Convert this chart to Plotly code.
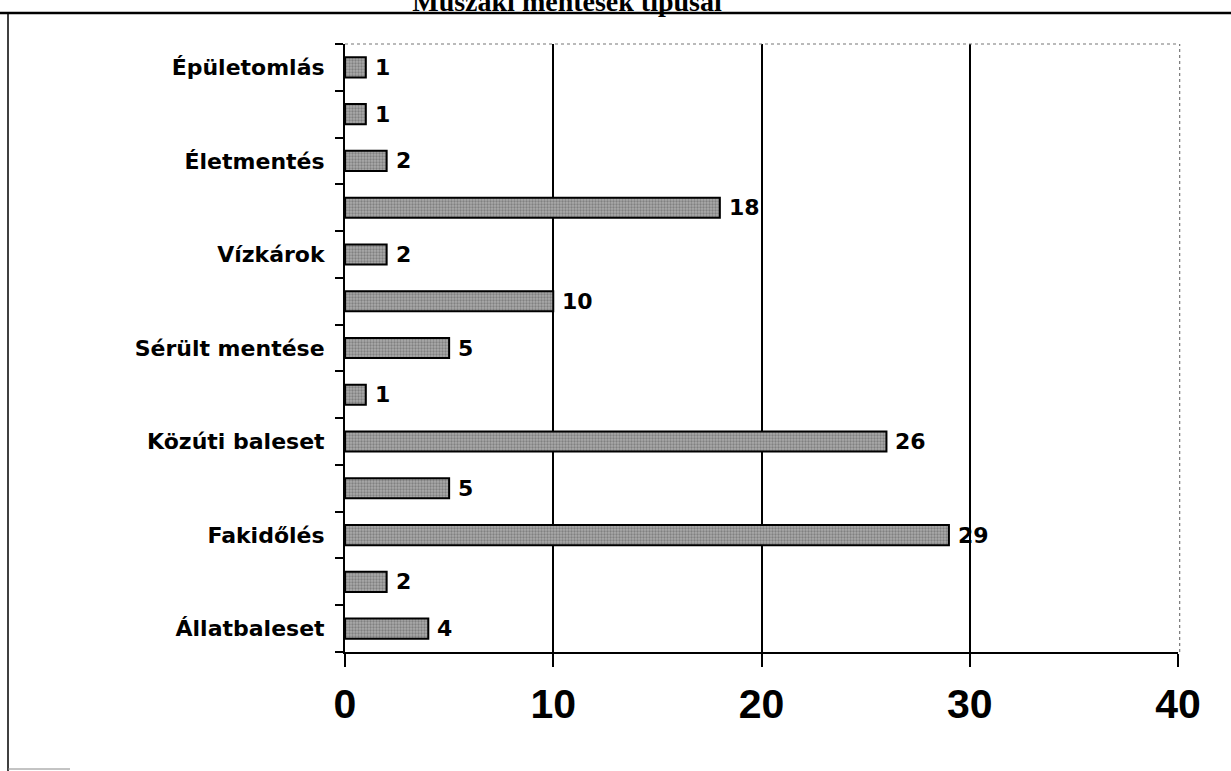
import plotly.graph_objects as go

title_text = "Műszaki mentések típusai"
categories = ["Épületomlás", "", "Életmentés", "", "Vízkárok", "", "Sérült mentése",
              "", "Közúti baleset", "", "Fakidőlés", "", "Állatbaleset"]
values = [1, 1, 2, 18, 2, 10, 5, 1, 26, 5, 29, 2, 4]
x_ticks = [0, 10, 20, 30, 40]

idx = list(range(len(values)))
LABEL_FONT = "DejaVu Sans, Arial"

fig = go.Figure()
fig.add_trace(go.Bar(
    x=values, y=idx, orientation="h", width=0.43,
    marker=dict(color="#a0a0a0", line=dict(color="black", width=2),
                pattern=dict(shape=".", fgcolor="#555555", bgcolor="#aaaaaa", size=3, solidity=0.45)),
    hoverinfo="x+y",
))

for i, v in zip(idx, values):
    fig.add_annotation(x=v, y=i, xref="x", yref="y", text="<b>" + str(v) + "</b>", showarrow=False,
                       xanchor="left", xshift=7,
                       font=dict(family=LABEL_FONT, size=22, color="black"))

# plot area in page pixels
L, R, T, B = 345, 1178, 44, 652
W, H = R - L, B - T
def px(xp): return (xp - L) / W
def py(yp): return (B - yp) / H

# outer frame pieces (scan border)
fig.add_shape(type="line", xref="paper", yref="paper", x0=px(0), x1=px(1231), y0=py(13), y1=py(13),
              line=dict(color="black", width=2.5))
fig.add_shape(type="line", xref="paper", yref="paper", x0=px(8), x1=px(8), y0=py(13), y1=py(771),
              line=dict(color="black", width=1.5))
fig.add_shape(type="line", xref="paper", yref="paper", x0=px(8), x1=px(70), y0=py(769), y1=py(769),
              line=dict(color="#888", width=1))
# dotted plot border top/right
fig.add_shape(type="line", xref="paper", yref="paper", x0=0, x1=1, y0=1, y1=1,
              line=dict(color="#777", width=1.2, dash="dot"))
fig.add_shape(type="line", xref="paper", yref="paper", x0=1.002, x1=1.002, y0=0, y1=1,
              line=dict(color="#777", width=1.2, dash="dot"))

fig.update_layout(
    width=1231, height=771,
    margin=dict(l=L, r=1231 - R, t=T, b=771 - B),
    paper_bgcolor="white", plot_bgcolor="white",
    showlegend=False,
    title=dict(text="<b>" + title_text + "</b>", x=567 / 1231, xanchor="center",
               yref="container", y=1 - 1 / 771, yanchor="middle",
               font=dict(family="Liberation Serif, Times New Roman", size=28, color="black")),
    xaxis=dict(range=[0, 40], tickvals=x_ticks, ticktext=[str(t) for t in x_ticks],
               showgrid=True, gridcolor="black", gridwidth=1.6,
               showline=True, linecolor="black", linewidth=2,
               ticks="outside", ticklen=13, tickwidth=2, tickcolor="black",
               ticklabelstandoff=2, zeroline=False,
               tickfont=dict(family="Liberation Sans, Arial", size=41, color="black", weight="bold")),
    yaxis=dict(range=[12.5, -0.5], tickvals=idx, ticktext=categories,
               showgrid=False, zeroline=False,
               showline=True, linecolor="black", linewidth=2,
               ticks="", ticklabelstandoff=14,
               tickfont=dict(family=LABEL_FONT, size=22, color="black", weight="bold"),
               minor=dict(tick0=0.5, dtick=1, ticks="outside", ticklen=8, tickwidth=2,
                          tickcolor="black", showgrid=False)),
)

fig.write_html("out.html", config={"displayModeBar": False},
               post_script="document.body.style.margin='0';document.body.style.padding='0';")
